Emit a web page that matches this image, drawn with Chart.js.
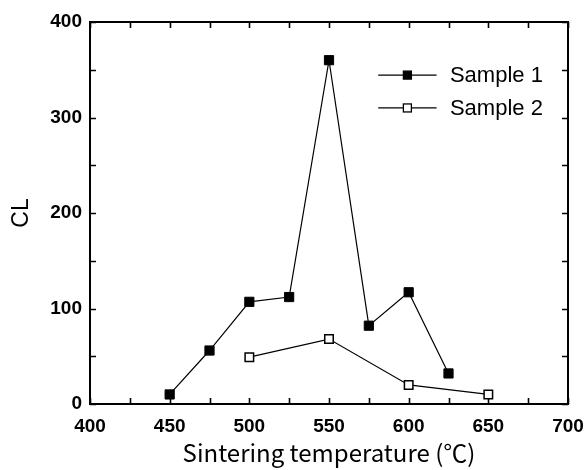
<!DOCTYPE html>
<html>
<head>
<meta charset="utf-8">
<script src="https://cdn.jsdelivr.net/npm/chart.js@4/dist/chart.umd.min.js"></script>
<style>
  html, body { margin: 0; padding: 0; background: #fff; }
  #wrap { width: 585px; height: 470px; }
</style>
</head>
<body>
<div id="wrap"><canvas id="c" width="585" height="470"></canvas></div>
<script>
// ---- data ----
const seriesNames = ["Sample 1", "Sample 2"];
const temps1 = [450, 475, 500, 525, 550, 575, 600, 625];
const cl1    = [10, 56, 107, 112, 360, 82, 117, 32];
const temps2 = [500, 550, 600, 650];
const cl2    = [49, 68, 20, 10];
const xTickMin = 400, xTickMax = 700;
const yTickMin = 0, yTickMax = 400;
const xTitle = "Sintering temperature (\u2103)";
const yTitle = "CL";

const pts = (xs, ys) => xs.map((x, i) => ({x: x, y: ys[i]}));

const frameAndTicks = {
  id: 'frameAndTicks',
  afterDatasetsDraw(chart) {
    const {ctx, chartArea: a, scales} = chart;
    ctx.save();
    ctx.strokeStyle = '#000';
    ctx.lineWidth = 1.6;
    const L = 6;
    ctx.beginPath();
    scales.x.ticks.forEach(t => {
      const px = Math.round(scales.x.getPixelForValue(t.value)) + 0.5;
      ctx.moveTo(px, a.bottom); ctx.lineTo(px, a.bottom - L);
      ctx.moveTo(px, a.top); ctx.lineTo(px, a.top + L);
    });
    scales.y.ticks.forEach(t => {
      const py = Math.round(scales.y.getPixelForValue(t.value)) + 0.5;
      ctx.moveTo(a.left, py); ctx.lineTo(a.left + L, py);
      ctx.moveTo(a.right, py); ctx.lineTo(a.right - L, py);
    });
    ctx.stroke();
    ctx.lineWidth = 2;
    ctx.strokeRect(a.left, a.top, a.right - a.left, a.bottom - a.top);
    ctx.restore();
  }
};

const insideLegend = {
  id: 'insideLegend',
  afterDraw(chart) {
    const {ctx, chartArea: a} = chart;
    const w = a.right - a.left, h = a.bottom - a.top;
    const x0 = a.left + w * 0.603, x1 = a.left + w * 0.725, xm = (x0 + x1) / 2;
    const xt = a.left + w * 0.753;
    const ys = [a.top + h * 0.139, a.top + h * 0.225];
    ctx.save();
    chart.data.datasets.forEach((ds, i) => {
      const y = ys[i];
      ctx.strokeStyle = '#000';
      ctx.lineWidth = 1.2;
      ctx.beginPath(); ctx.moveTo(x0, y); ctx.lineTo(x1, y); ctx.stroke();
      const s = 8;
      ctx.fillStyle = ds.pointBackgroundColor;
      ctx.fillRect(xm - s / 2, y - s / 2, s, s);
      ctx.lineWidth = 1.3;
      ctx.strokeRect(xm - s / 2, y - s / 2, s, s);
      ctx.fillStyle = '#000';
      ctx.font = '22px "Liberation Sans", Arial, sans-serif';
      ctx.textBaseline = 'middle';
      ctx.textAlign = 'left';
      ctx.fillText(ds.label, xt, y + 1);
    });
    ctx.restore();
  }
};

new Chart(document.getElementById('c'), {
  type: 'line',
  data: {
    datasets: [
      {
        label: seriesNames[0],
        data: pts(temps1, cl1),
        borderColor: '#000',
        borderWidth: 1.2,
        pointStyle: 'rect',
        pointRadius: 6.5,
        pointBorderWidth: 1,
        pointBackgroundColor: '#000',
        pointBorderColor: '#000',
        tension: 0
      },
      {
        label: seriesNames[1],
        data: pts(temps2, cl2),
        borderColor: '#000',
        borderWidth: 1.2,
        pointStyle: 'rect',
        pointRadius: 6,
        pointBorderWidth: 1.5,
        pointBackgroundColor: '#fff',
        pointBorderColor: '#000',
        tension: 0
      }
    ]
  },
  options: {
    responsive: false,
    animation: false,
    layout: { padding: { top: 22, right: 17, left: 0, bottom: 0 } },
    plugins: { legend: { display: false }, tooltip: { enabled: false } },
    scales: {
      x: {
        type: 'linear',
        min: xTickMin, max: xTickMax,
        grid: { display: false, drawTicks: false },
        border: { display: false },
        ticks: {
          stepSize: 25,
          autoSkip: false,
          maxRotation: 0,
          padding: 11,
          color: '#000',
          font: { family: '"Liberation Sans", Arial, sans-serif', size: 19, weight: 'bold' },
          callback: v => (v % 50 === 0 ? String(v) : '')
        },
        title: {
          display: true,
          text: xTitle,
          color: '#000',
          padding: { top: 0, bottom: 3 },
          font: { family: '"Noto Sans CJK JP", "Noto Sans", sans-serif', size: 24, lineHeight: 1.2 }
        },
        afterFit: s => { s.height = 66; s.paddingLeft = 0; s.paddingRight = 0; }
      },
      y: {
        min: yTickMin, max: yTickMax,
        grid: { display: false, drawTicks: false },
        border: { display: false },
        ticks: {
          stepSize: 50,
          autoSkip: false,
          padding: 8,
          color: '#000',
          font: { family: '"Liberation Sans", Arial, sans-serif', size: 19, weight: 'bold' },
          callback: v => (v % 100 === 0 ? String(v) : '')
        },
        title: {
          display: true,
          text: yTitle,
          color: '#000',
          padding: { top: 8, bottom: 10 },
          font: { family: '"Liberation Sans", Arial, sans-serif', size: 23 }
        },
        afterFit: s => { s.width = 90; s.paddingTop = 0; s.paddingBottom = 0; }
      }
    }
  },
  plugins: [frameAndTicks, insideLegend]
});
</script>
</body>
</html>
